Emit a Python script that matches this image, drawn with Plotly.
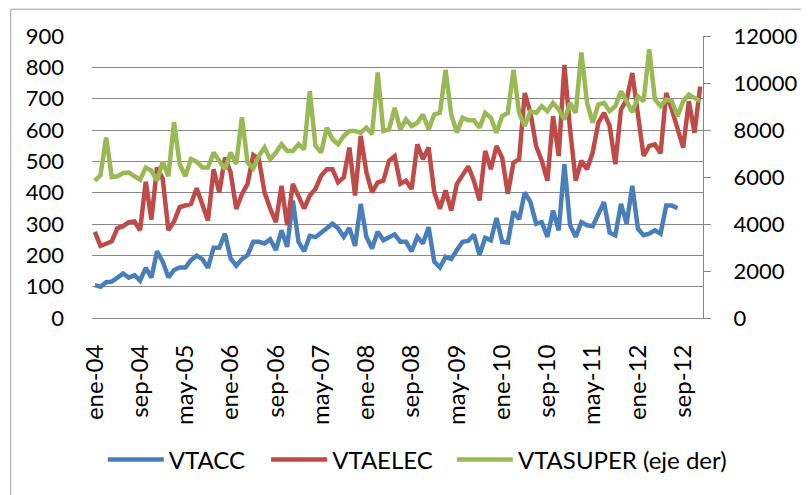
import plotly.graph_objects as go

MONTHS = ["ene", "feb", "mar", "abr", "may", "jun", "jul", "ago", "sep", "oct", "nov", "dic"]
YEARS = ["04", "05", "06", "07", "08", "09", "10", "11", "12"]
categories = [f"{m}-{y}" for y in YEARS for m in MONTHS]
tick_labels = ["ene-04", "sep-04", "may-05", "ene-06", "sep-06", "may-07", "ene-08",
               "sep-08", "may-09", "ene-10", "sep-10", "may-11", "ene-12", "sep-12"]

vtacc = [105, 100, 114, 116, 129, 142, 129, 137, 119, 160, 129, 213, 180, 130, 153, 161,
         161, 185, 199, 188, 160, 224, 224, 269, 190, 167, 188, 201, 243, 243, 238, 251,
         217, 280, 227, 375, 243, 213, 262, 258, 272, 287, 301, 286, 259, 287, 230, 364,
         259, 222, 275, 248, 259, 267, 243, 243, 213, 259, 238, 290, 180, 161, 195, 188,
         217, 243, 246, 266, 201, 256, 248, 319, 243, 241, 340, 315, 401, 370, 301, 306,
         259, 343, 280, 491, 296, 259, 306, 296, 293, 333, 370, 272, 264, 364, 301, 422,
         285, 264, 269, 280, 269, 359, 359, 350]

vtaelec = [275, 230, 237, 245, 287, 293, 306, 308, 280, 435, 314, 480, 444, 280, 308, 354,
           359, 364, 414, 359, 311, 475, 401, 512, 465, 348, 395, 428, 520, 507, 401, 349,
           306, 422, 296, 428, 391, 349, 391, 412, 454, 475, 475, 433, 449, 544, 391, 581,
           465, 401, 433, 438, 502, 517, 428, 438, 412, 554, 507, 544, 401, 349, 407, 343,
           428, 454, 484, 438, 375, 533, 475, 549, 512, 396, 496, 507, 718, 655, 549, 502,
           438, 644, 517, 808, 602, 438, 502, 475, 528, 623, 655, 613, 491, 665, 697, 782,
           655, 517, 549, 554, 526, 718, 665, 602, 544, 692, 591, 739]

vtasuper = [5840, 6080, 7680, 5990, 6030, 6170, 6190, 6030, 5885, 6400, 6270, 5840, 6650,
            6030, 8335, 6550, 6030, 6760, 6650, 6400, 6400, 7040, 6650, 6330, 7040, 6550,
            8540, 6620, 6365, 6900, 7255, 6760, 7040, 7395, 7110, 7110, 7395, 7180, 9645,
            7325, 7040, 8100, 7605, 7395, 7745, 7955, 7955, 7885, 8100, 7815, 10450, 7955,
            8025, 8945, 8025, 8450, 8170, 8310, 8660, 8025, 8660, 8730, 10560, 8660, 7885,
            8520, 8420, 8420, 8100, 8730, 8520, 7885, 8590, 8730, 10560, 8730, 8170, 8800,
            8730, 9010, 8800, 9155, 8870, 8450, 9155, 8730, 11295, 9155, 8310, 9085, 9155,
            8800, 9010, 9645, 9225, 8760, 9435, 9225, 11435, 9295, 9010, 9295, 9225, 8590,
            9225, 9505, 9365, 9225]

FONT = "Lato, 'Open Sans', sans-serif"
GRID = "#878787"
TICK_FS = 22
LEG_FS = 24

# the page body adds an 8px offset, so the figure is 8px smaller than the window
fig = go.Figure()
fig.add_trace(go.Scatter(x=categories[:len(vtacc)], y=vtacc, name="VTACC", mode="lines",
                         line=dict(color="#4A7EBB", width=4.5), legend="legend"))
fig.add_trace(go.Scatter(x=categories, y=vtaelec, name="VTAELEC", mode="lines",
                         line=dict(color="#BE4B48", width=4.5), legend="legend2"))
fig.add_trace(go.Scatter(x=categories, y=vtasuper, name="VTASUPER (eje der)", mode="lines",
                         line=dict(color="#98B954", width=4.5), yaxis="y2", legend="legend3"))

leg_common = dict(orientation="h", xanchor="left", y=-0.5035, yanchor="middle",
                  itemwidth=56, font=dict(family=FONT, size=LEG_FS, color="black"),
                  bgcolor="rgba(0,0,0,0)", borderwidth=0)

fig.update_layout(
    width=801, height=487, autosize=False,
    margin=dict(l=84, r=96, t=28, b=175),
    paper_bgcolor="white", plot_bgcolor="white",
    font=dict(family=FONT, size=TICK_FS, color="black"),
    showlegend=True,
    legend=dict(x=0.0177, **leg_common),
    legend2=dict(x=0.285, **leg_common),
    legend3=dict(x=0.589, **leg_common),
    xaxis=dict(type="category", categoryorder="array", categoryarray=categories,
               range=[-0.5, len(categories) - 0.5],
               tickmode="array", tickvals=tick_labels, ticktext=tick_labels,
               tickangle=-90, showgrid=False, zeroline=False,
               showline=True, linecolor=GRID, linewidth=1, ticks="",
               ticklabelstandoff=16, tickfont=dict(size=24)),
    yaxis=dict(range=[0, 900], dtick=100, tick0=0, showgrid=True, gridcolor=GRID, gridwidth=1,
               zeroline=False, showline=False, ticks="", ticklabelstandoff=27,
               tickfont=dict(size=TICK_FS)),
    yaxis2=dict(range=[0, 12000], dtick=2000, tick0=0, overlaying="y", side="right",
                tickformat="d", exponentformat="none",
                showgrid=False, zeroline=False, showline=True, linecolor=GRID, linewidth=1,
                ticks="outside", ticklen=7, tickcolor=GRID, ticklabelstandoff=18,
                tickfont=dict(size=TICK_FS)),
    shapes=[dict(type="rect", xref="paper", yref="paper",
                 x0=-0.133, x1=1.25, y0=-0.7, y1=1.095,
                 line=dict(color="#a0a0a0", width=1), fillcolor="rgba(0,0,0,0)", layer="below")],
)

fig.write_html("out.html")
